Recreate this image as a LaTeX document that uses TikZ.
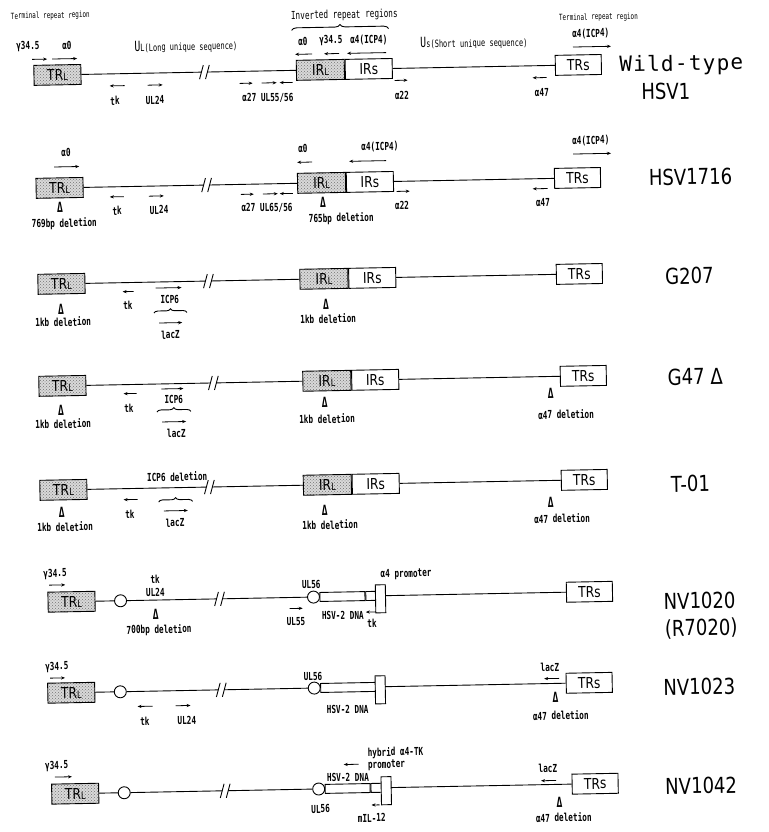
\documentclass[tikz,border=0pt]{standalone}
\usepackage{fontspec}
\setmainfont{DejaVu Sans}
\newfontfamily\lblfont[FakeStretch=0.7]{DejaVu Sans Mono}
\newfontfamily\namefont[FakeStretch=0.82]{DejaVu Sans}
\newfontfamily\wtfont[LetterSpace=6]{DejaVu Sans Mono}
\usetikzlibrary{arrows.meta,positioning,decorations.pathreplacing,patterns}
\newcommand{\lo}[1]{{\fontsize{10}{10}\selectfont #1}}

\tikzset{
  seg/.style={draw, line width=0.9pt, minimum height=20pt, inner sep=0pt,
    font=\namefont\fontsize{15}{15}\selectfont},
  rep/.style={seg, preaction={fill=gray!30}, pattern=crosshatch dots, pattern color=black!55},
  lbl/.style={inner sep=0pt, font=\lblfont\bfseries\fontsize{11}{11}\selectfont},
  note/.style={inner sep=0pt, font=\lblfont\fontsize{10}{10}\selectfont},
  head/.style={inner sep=0pt, font=\lblfont\fontsize{8.5}{8.5}\selectfont},
  del/.style={inner sep=0pt, font=\lblfont\bfseries\fontsize{14}{14}\selectfont},
  gene/.style={-{Stealth[length=4pt,width=3.2pt]}, line width=0.8pt},
  dna/.style={line width=0.9pt},
  strain/.style={inner sep=0pt, font=\namefont\fontsize{22}{22}\selectfont},
  knot/.style={circle, draw, line width=0.9pt, fill=white, minimum size=12pt, inner sep=0pt},
  ins/.style={draw, line width=0.9pt, fill=white, minimum height=9pt, inner sep=0pt},
  prom/.style={draw, line width=0.9pt, fill=white, minimum width=10pt, minimum height=28pt, inner sep=0pt},
  brk/.pic={\draw[dna] (-5,7) -- (-1,-7) (1,7) -- (5,-7);}
}

\begin{document}
\begin{tikzpicture}[x=1pt,y=-1pt]
\useasboundingbox (0,0) rectangle (768,832);
\begin{scope}[rotate around={1.1:(0,0)}, transform shape]
% Wild-type HSV1
\node[head] (trr1) at (50,17) {Terminal repeat region};
\node[note, font=\lblfont\fontsize{11}{11}\selectfont] (irr1) at (344,22) {Inverted repeat regions};
\node[head] (trr2) at (598,29) {Terminal repeat region};
\coordinate (br1a) at (291,36);
\coordinate (br1b) at (388,36);
\draw[dna, decorate, decoration={brace, amplitude=5pt}] (br1a) -- (br1b);
\node[rep, minimum width=47pt] (trl1) at (56,76) {TR\lo{L}};
\node[rep, minimum width=48pt] (irl1) at (319,76) {IR\lo{L}};
\node[seg, minimum width=47pt, right=0pt of irl1] (irs1) {IRs};
\node[seg, minimum width=46pt] (trs1) at (577,76) {TRs};
\coordinate (b1l) at (200,76);
\coordinate (b1r) at (206,76);
\pic at (203,76) {brk};
\draw[dna] (trl1) -- (b1l) (b1r) -- (irl1) (irs1) -- (trs1);
\node[lbl] (g1) at (27,47) {γ34.5};
\node[lbl] (a1) at (66,47) {α0};
\draw[gene] (31,60) -- (46,60);
\draw[gene] (51,60) -- (76,60);
\node[note] (ul1) at (185,50) {{\fontsize{14}{14}\selectfont U}\lo{L}(Long unique sequence)};
\node[lbl] (ia1) at (302,47) {α0};
\node[lbl] (ig1) at (330,47) {γ34.5};
\node[lbl] (ic1) at (368,47) {α4(ICP4)};
\draw[gene] (311,60) -- (294,60);
\draw[gene] (338,60) -- (323,60);
\draw[gene] (385,60) -- (346,60);
\node[note] (us1) at (473,52) {{\fontsize{14}{14}\selectfont U}\lo{s}(Short unique sequence)};
\node[lbl] (tc1) at (590,45) {α4(ICP4)};
\draw[gene] (572,58) -- (610,58);
\draw[gene] (123,88) -- (108,88);
\draw[gene] (146,88) -- (161,88);
\draw[gene] (238,88) -- (251,88);
\draw[gene] (260,88) -- (275,88);
\draw[gene] (291,88) -- (278,88);
\draw[gene] (393,88) -- (406,88);
\draw[gene] (545,88) -- (531,88);
\node[lbl] (tk1) at (113,103) {tk};
\node[lbl] (u241) at (153,103) {UL24};
\node[lbl] (u551) at (266,103) {α27 UL55/56};
\node[lbl] (a221) at (400,103) {α22};
\node[lbl] (a471) at (540,103) {α47};
\node[strain, font=\wtfont\fontsize{21}{21}\selectfont] (wt) at (680,78) {Wild-type};
\node[strain] (wt2) at (664,104) {HSV1};

% HSV1716
\node[rep, minimum width=47pt] (trl2) at (56,189) {TR\lo{L}};
\node[rep, minimum width=48pt] (irl2) at (318,189) {IR\lo{L}};
\node[seg, minimum width=47pt, right=0pt of irl2] (irs2) {IRs};
\node[seg, minimum width=46pt] (trs2) at (574,189) {TRs};
\coordinate (b2l) at (200,189);
\coordinate (b2r) at (206,189);
\pic at (203,189) {brk};
\draw[dna] (trl2) -- (b2l) (b2r) -- (irl2) (irs2) -- (trs2);
\node[lbl] (a2) at (63,154) {α0};
\draw[gene] (51,168) -- (76,168);
\node[lbl] (ia2) at (300,154) {α0};
\draw[gene] (309,168) -- (294,168);
\node[lbl] (ic2) at (377,154) {α4(ICP4)};
\draw[gene] (383,168) -- (346,168);
\node[lbl] (tc2) at (588,152) {α4(ICP4)};
\draw[gene] (570,165) -- (608,165);
\draw[gene] (120,199) -- (106,199);
\draw[gene] (145,199) -- (160,199);
\draw[gene] (237,199) -- (250,199);
\draw[gene] (259,199) -- (274,199);
\draw[gene] (289,199) -- (276,199);
\draw[gene] (393,199) -- (406,199);
\draw[gene] (544,199) -- (529,199);
\node[lbl] (tk2) at (113,213) {tk};
\node[lbl] (u242) at (155,213) {UL24};
\node[lbl] (u552) at (263,213) {α27 UL65/56};
\node[lbl] (a222) at (398,213) {α22};
\node[lbl] (a472) at (539,213) {α47};
\node[del] (d2a) at (56,208) {Δ};
\node[lbl] (t2a) at (60,225) {769bp deletion};
\node[del] (d2b) at (319,209) {Δ};
\node[lbl] (t2b) at (337,225) {765bp deletion};
\node[strain] (n2) at (687,190) {HSV1716};

% G207
\node[rep, minimum width=47pt] (trl3) at (56,285) {TR\lo{L}};
\node[rep, minimum width=48pt] (irl3) at (318.5,285) {IR\lo{L}};
\node[seg, minimum width=47pt, right=0pt of irl3] (irs3) {IRs};
\node[seg, minimum width=46pt] (trs3) at (574,285) {TRs};
\coordinate (b3l) at (200,285);
\coordinate (b3r) at (206,285);
\pic at (203,285) {brk};
\draw[dna] (trl3) -- (b3l) (b3r) -- (irl3) (irs3) -- (trs3);
\node[del] (d3a) at (55,310) {Δ};
\node[lbl] (t3a) at (57,323) {1kb deletion};
\draw[gene] (128,294) -- (117,294);
\node[lbl] (tk3) at (122,308) {tk};
\draw[gene] (150,291) -- (176,291);
\node[lbl] (ic3) at (164,303) {ICP6};
\coordinate (br3a) at (148,316);
\coordinate (br3b) at (181,316);
\draw[dna, decorate, decoration={brace, amplitude=4pt}] (br3a) -- (br3b);
\draw[gene] (153,326) -- (176,326);
\node[lbl] (lz3) at (164,338) {lacZ};
\node[del] (d3b) at (320,311) {Δ};
\node[lbl] (t3b) at (322,325) {1kb deletion};
\node[strain] (n3) at (684,289) {G207};

% G47 delta
\node[rep, minimum width=47pt] (trl4) at (55,387) {TR\lo{L}};
\node[rep, minimum width=48pt] (irl4) at (319.5,387) {IR\lo{L}};
\node[seg, minimum width=47pt, right=0pt of irl4] (irs4) {IRs};
\node[seg, minimum width=46pt] (trs4) at (576,387) {TRs};
\coordinate (b4l) at (203,387);
\coordinate (b4r) at (209,387);
\pic at (206,387) {brk};
\draw[dna] (trl4) -- (b4l) (b4r) -- (irl4) (irs4) -- (trs4);
\node[del] (d4a) at (53,411) {Δ};
\node[lbl] (t4a) at (55,425) {1kb deletion};
\draw[gene] (129,396) -- (116,396);
\node[lbl] (tk4) at (121,411) {tk};
\draw[gene] (154,392) -- (176,392);
\node[lbl] (ic4) at (166,403) {ICP6};
\coordinate (br4a) at (149,415);
\coordinate (br4b) at (183,415);
\draw[dna, decorate, decoration={brace, amplitude=4pt}] (br4a) -- (br4b);
\draw[gene] (154,425) -- (178,425);
\node[lbl] (lz4) at (168,437) {lacZ};
\node[del] (d4b) at (317,409) {Δ};
\node[lbl] (t4b) at (319,425) {1kb deletion};
\node[del] (d4c) at (543,404) {Δ};
\node[lbl] (t4c) at (558,425) {α47 deletion};
\node[strain] (n4) at (688,390) {G47 Δ};

% T-01
\node[lbl] (ic5) at (168,480) {ICP6 deletion};
\node[rep, minimum width=47pt] (trl5) at (54,491) {TR\lo{L}};
\node[rep, minimum width=48pt] (irl5) at (318,491) {IR\lo{L}};
\node[seg, minimum width=47pt, right=0pt of irl5] (irs5) {IRs};
\node[seg, minimum width=46pt] (trs5) at (575,491) {TRs};
\coordinate (b5l) at (197,491);
\coordinate (b5r) at (203,491);
\pic at (200,491) {brk};
\draw[dna] (trl5) -- (b5l) (b5r) -- (irl5) (irs5) -- (trs5);
\node[del] (d5a) at (52,513) {Δ};
\node[lbl] (t5a) at (55,528) {1kb deletion};
\draw[gene] (128,502) -- (114,502);
\node[lbl] (tk5) at (120,517) {tk};
\coordinate (br5a) at (149,505);
\coordinate (br5b) at (183,505);
\draw[dna, decorate, decoration={brace, amplitude=4pt}] (br5a) -- (br5b);
\draw[gene] (154,514) -- (178,514);
\node[lbl] (lz5) at (165,526) {lacZ};
\node[del] (d5b) at (315,516) {Δ};
\node[lbl] (t5b) at (320,531) {1kb deletion};
\node[del] (d5c) at (541,513) {Δ};
\node[lbl] (t5c) at (552,529) {α47 deletion};
\node[strain] (n5) at (681,497) {T-01};

% NV1020 (R7020)
\node[lbl] (g6) at (44,575) {γ34.5};
\draw[gene] (38,586) -- (54,586);
\node[rep, minimum width=47pt] (trl6) at (60,603) {TR\lo{L}};
\node[knot] (c6a) at (109,603) {};
\coordinate (b6l) at (205,603);
\coordinate (b6r) at (211,603);
\pic at (208,603) {brk};
\node[knot] (c6b) at (302,603) {};
\node[ins, minimum width=45pt, anchor=west] (hsv6) at (308,603) {};
\node[ins, minimum width=11pt, right=0pt of hsv6] (tki6) {};
\node[prom] (pro6) at (369,606) {};
\coordinate (p6) at (374,603);
\node[seg, minimum width=46pt] (trs6) at (578,603) {TRs};
\draw[dna] (trl6) -- (c6a) (c6a) -- (b6l) (b6r) -- (c6b) (p6) -- (trs6);
\node[lbl] (tk6) at (144,582) {tk};
\node[lbl] (u246) at (144,595) {UL24};
\node[del] (d6a) at (144,617) {Δ};
\node[lbl] (t6a) at (147,633) {700bp deletion};
\node[lbl] (u566) at (300,590) {UL56};
\draw[gene] (278,614) -- (291,614);
\node[lbl] (u556) at (284,627) {UL55};
\node[lbl] (hd6) at (331,622) {HSV-2 DNA};
\draw[gene] (364,619) -- (354,619);
\node[lbl] (tk6b) at (360,630) {tk};
\node[lbl] (ap6) at (395,582) {α4 promoter};
\node[strain] (n6) at (688,614) {NV1020};
\node[strain] (n6b) at (689,642) {(R7020)};

% NV1023
\node[lbl] (g7) at (44,668) {γ34.5};
\draw[gene] (37,679) -- (52,679);
\node[rep, minimum width=47pt] (trl7) at (58,694) {TR\lo{L}};
\node[knot] (c7a) at (107,694) {};
\coordinate (b7l) at (205,694);
\coordinate (b7r) at (211,694);
\pic at (208,694) {brk};
\node[knot] (c7b) at (301,694) {};
\node[ins, minimum width=55pt, anchor=west] (hsv7) at (307,694) {};
\node[prom] (pro7) at (367,697) {};
\coordinate (p7) at (372,694);
\node[seg, minimum width=46pt] (trs7) at (576,694) {TRs};
\draw[dna] (trl7) -- (c7a) (c7a) -- (b7l) (b7r) -- (c7b) (p7) -- (trs7);
\draw[gene] (139,709) -- (124,709);
\node[lbl] (tk7) at (131,724) {tk};
\draw[gene] (162,709) -- (177,709);
\node[lbl] (u247) at (173,724) {UL24};
\node[lbl] (u567) at (300,682) {UL56};
\node[lbl] (hd7) at (334,716) {HSV-2 DNA};
\node[lbl] (lz7) at (537,678) {lacZ};
\draw[gene] (546,689) -- (531,689);
\node[del] (d7) at (542,708) {Δ};
\node[lbl] (t7) at (547,726) {α47 deletion};
\node[strain] (n7) at (686,700) {NV1023};

% NV1042
\node[lbl] (g8) at (42,767) {γ34.5};
\draw[gene] (40,778) -- (57,778);
\node[rep, minimum width=47pt] (trl8) at (60,795) {TR\lo{L}};
\node[knot] (c8a) at (109,795) {};
\coordinate (b8l) at (207,795);
\coordinate (b8r) at (213,795);
\pic at (210,795) {brk};
\node[knot] (c8b) at (303.5,795) {};
\node[ins, minimum width=45pt, anchor=west] (hsv8) at (309.5,795) {};
\node[ins, minimum width=11pt, right=0pt of hsv8] (il8) {};
\node[prom] (pro8) at (371,798) {};
\coordinate (p8) at (376,795);
\node[seg, minimum width=46pt] (trs8) at (580,795) {TRs};
\draw[dna] (trl8) -- (c8a) (c8a) -- (b8l) (b8r) -- (c8b) (p8) -- (trs8);
\node[lbl] (u568) at (305,815) {UL56};
\node[lbl] (hd8) at (333,784) {HSV-2 DNA};
\node[lbl, align=left, anchor=west, font=\lblfont\bfseries\fontsize{11}{12}\selectfont] (hy8) at (353,766) {hybrid α4-TK\\promoter};
\draw[gene] (344,771) -- (329,771);
\draw[gene] (364,812) -- (356,812);
\node[lbl] (il8t) at (356,825) {mIL-12};
\node[lbl] (lz8) at (533,779) {lacZ};
\draw[gene] (541,791) -- (526,791);
\node[del] (d8) at (544,813) {Δ};
\node[lbl] (t8) at (548,828) {α47 deletion};
\node[strain] (n8) at (686,799) {NV1042};
\end{scope}
\end{tikzpicture}
\end{document}
